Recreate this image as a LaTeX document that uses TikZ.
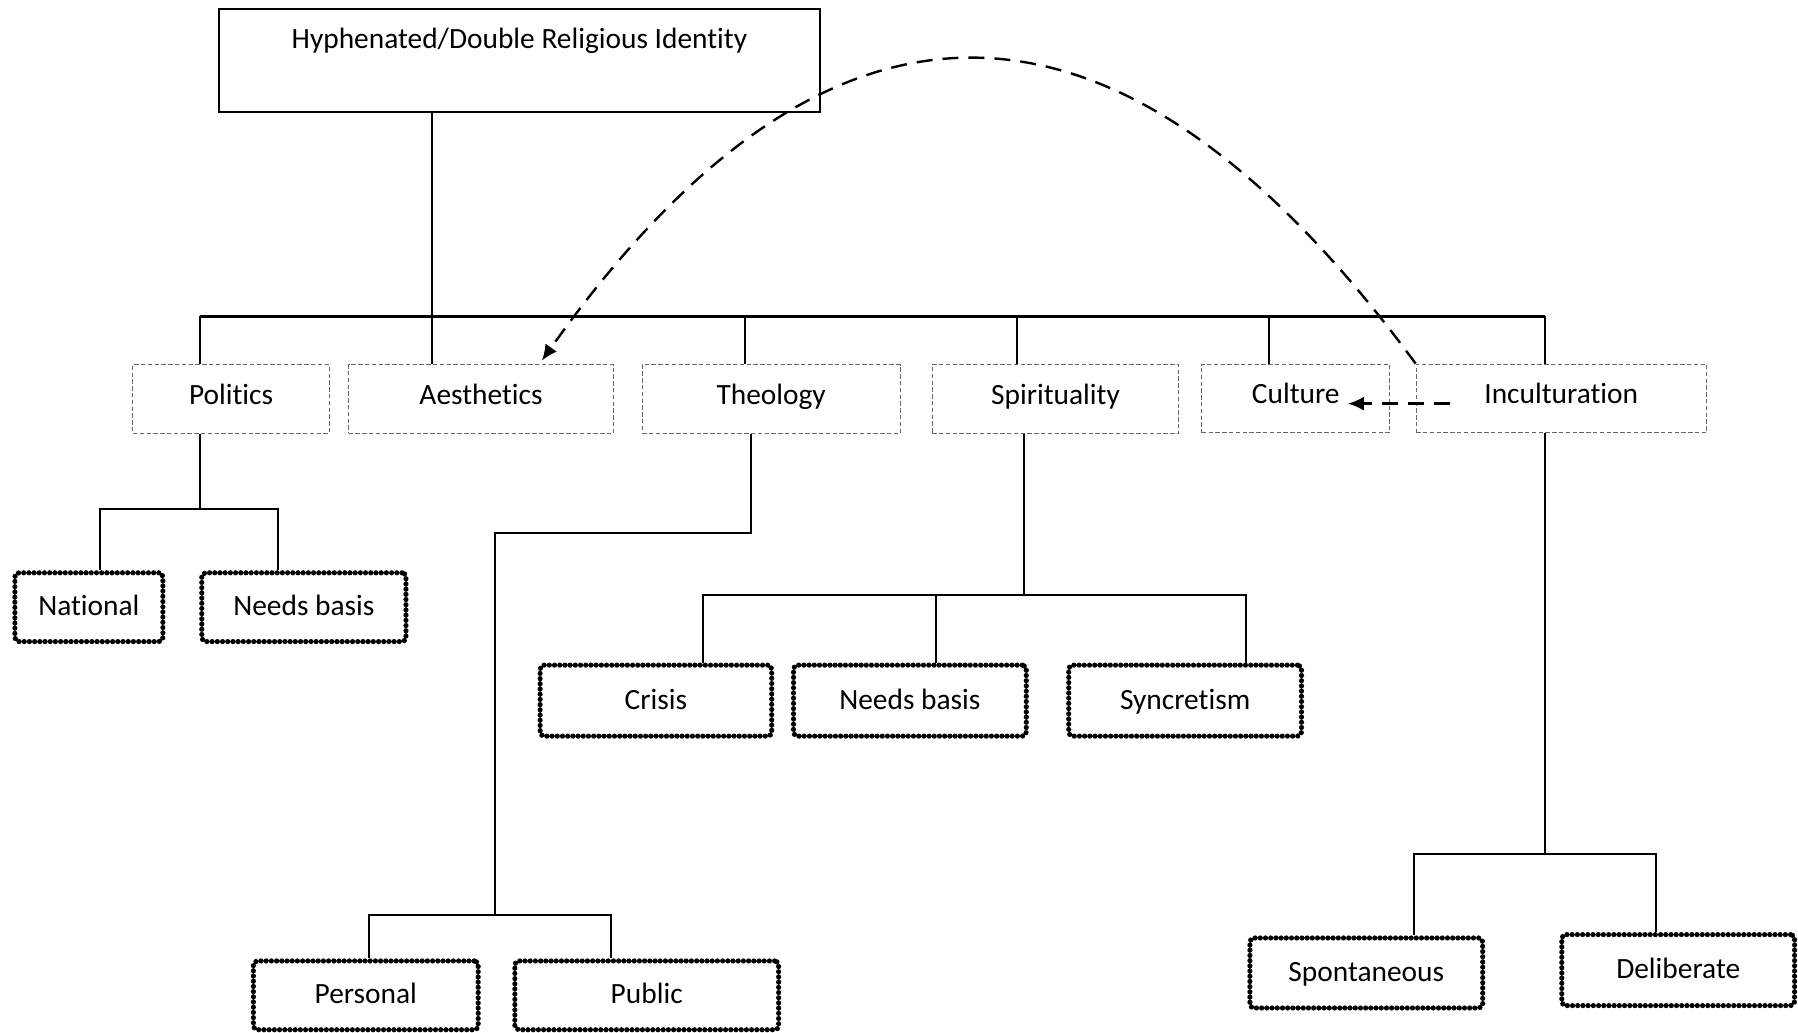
\documentclass[tikz,border=0pt]{standalone}
\usepackage{fontspec}
\setmainfont{Carlito}[Ligatures=NoCommon]
\usetikzlibrary{arrows.meta,calc}

\tikzset{
  topbox/.style={draw, line width=0.9pt, minimum width=300.5pt, minimum height=51.6pt,
    inner sep=5pt, text height=14.5pt, text depth=27pt},
  catbox/.style={draw=black!60, line width=0.5pt, dash pattern=on 2.2pt off 1.2pt,
    minimum height=34.4pt, inner sep=0pt, text height=10pt, text depth=5pt},
  leafbox/.style={draw, line width=2.6pt, dash pattern=on 0pt off 2.6pt, line cap=round,
    rounded corners=2pt, minimum height=34.4pt, inner sep=0pt, text height=11pt, text depth=2.5pt},
  tree/.style={line width=1pt},
  bus/.style={line width=1.5pt},
  linkarrow/.style={line width=1.2pt, dash pattern=on 8pt off 5pt,
    -{Latex[length=8pt,width=7pt]}}
}

\begin{document}
\begin{tikzpicture}[x=0.5734pt, y=-0.5734pt, font=\fontsize{14.7pt}{17pt}\selectfont]
  \useasboundingbox (0,0) rectangle (1568,900);

  \node[topbox] (title) at (453,53) {Hyphenated/Double Religious Identity};

  % first level
  \node[catbox, minimum width=98.1pt]  (pol)    at (201.5,348)  {Politics};
  \node[catbox, minimum width=132.5pt] (aesth)  at (419.5,348)  {Aesthetics};
  \node[catbox, minimum width=129pt]   (theo)   at (672.5,348)  {Theology};
  \node[catbox, minimum width=123.3pt] (spir)   at (920.5,348)  {Spirituality};
  \node[catbox, minimum width=94pt]    (cult)   at (1130,347.5) {Culture};
  \node[catbox, minimum width=145.1pt] (incult) at (1361.5,347.5) {Inculturation};

  % leaves
  \node[leafbox, minimum width=74pt]    (nat)   at (77.5,529.5) {National};
  \node[leafbox, minimum width=102.1pt] (pneed) at (265,529.5)  {Needs basis};
  \node[leafbox, minimum width=112.4pt] (pers)  at (319,868)    {Personal};
  \node[leafbox, minimum width=131.9pt] (pub)   at (564,868)    {Public};
  \node[leafbox, minimum width=115.8pt, minimum height=35.5pt] (cris)  at (572,611)    {Crisis};
  \node[leafbox, minimum width=116.4pt, minimum height=35.5pt] (sneed) at (793.5,611)  {Needs basis};
  \node[leafbox, minimum width=116.4pt, minimum height=35.5pt] (sync)  at (1033.5,611) {Syncretism};
  \node[leafbox, minimum width=116.4pt, minimum height=35pt]   (spon)  at (1191.5,848.5) {Spontaneous};
  \node[leafbox, minimum width=116.4pt, minimum height=35.5pt] (deli)  at (1463.5,846) {Deliberate};

  % trunk and bus
  \coordinate (trunk) at (377,276);
  \draw[tree] (title.south -| trunk) -- (trunk |- aesth.north);
  \foreach \x/\n in {174/pol,650/theo,887/spir,1107/cult,1347/incult}{
    \coordinate (bus-\n) at (\x,276);
    \draw[tree] (bus-\n) -- (bus-\n |- \n.north);
  }
  \draw[bus] (bus-pol) -- (bus-incult);

  % politics
  \coordinate (pol-j) at (174,444);
  \coordinate (nat-d) at (87,444);
  \coordinate (pneed-d) at (242,444);
  \draw[tree] (pol-j |- pol.south) -- (pol-j);
  \draw[tree] (nat-d |- nat.north) -- (nat-d) -- (pneed-d) -- (pneed-d |- pneed.north);

  % theology
  \coordinate (theo-j) at (655,465);
  \coordinate (theo-k) at (432,798);
  \coordinate (pers-d) at (322,798);
  \coordinate (pub-d) at (533,798);
  \draw[tree] (theo-j |- theo.south) -- (theo-j) -| (theo-k);
  \draw[tree] (pers-d |- pers.north) -- (pers-d) -- (pub-d) -- (pub-d |- pub.north);

  % spirituality
  \coordinate (spir-j) at (893,519);
  \coordinate (cris-d) at (613,519);
  \coordinate (sneed-d) at (816,519);
  \coordinate (sync-d) at (1087,519);
  \draw[tree] (spir-j |- spir.south) -- (spir-j);
  \draw[tree] (cris-d |- cris.north) -- (cris-d) -- (sync-d) -- (sync-d |- sync.north);
  \draw[tree] (sneed-d) -- (sneed-d |- sneed.north);

  % inculturation
  \coordinate (inc-j) at (1347,745);
  \coordinate (spon-d) at (1233,745);
  \coordinate (deli-d) at (1444,745);
  \draw[tree] (inc-j |- incult.south) -- (inc-j);
  \draw[tree] (spon-d |- spon.north) -- (spon-d) -- (deli-d) -- (deli-d |- deli.north);

  % links
  \draw[linkarrow] (incult.north west) .. controls (975,-36) and (722,-37) .. ($(aesth.north)+(53,-3)$);
  \draw[linkarrow] ($(incult.west)+(30,4.5)$) -- ($(cult.east)+(-37,4.5)$);
\end{tikzpicture}
\end{document}
